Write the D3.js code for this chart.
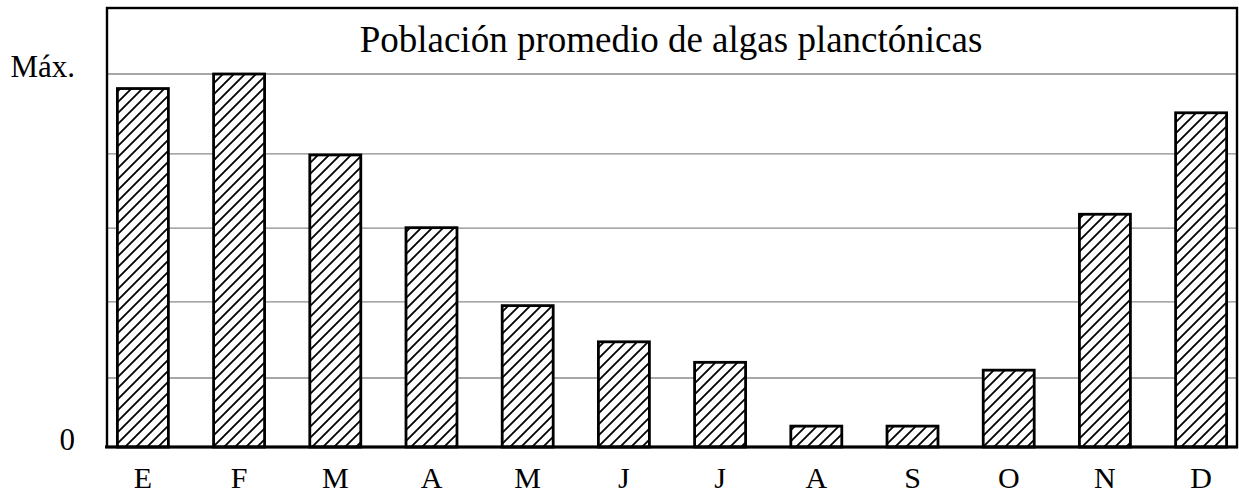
<!DOCTYPE html>
<html>
<head>
<meta charset="utf-8">
<script src="https://cdn.jsdelivr.net/npm/d3@7"></script>
<style>
  html, body { margin: 0; padding: 0; background: #fff; }
  svg { display: block; }
  text { font-family: "Liberation Serif", "Times New Roman", serif; fill: #000; }
</style>
</head>
<body>
<svg id="chart" width="1239" height="496"></svg>
<script>
// ---- data ----
const months = ["E", "F", "M", "A", "M", "J", "J", "A", "S", "O", "N", "D"];
const population = [96.1, 100, 78.3, 58.8, 37.9, 28.2, 22.7, 5.6, 5.6, 20.6, 62.4, 89.6];
const gridValues = [18.5, 38.9, 58.7, 78.6, 100];
const yTickValues = [0, 100];
const yTickLabels = ["0", "Máx."];
const titleText = "Población promedio de algas planctónicas";

// ---- layout ----
const W = 1239, H = 496;
const left = 107, right = 1237, frameTop = 8, bottom = 447, maxY = 74;

const svg = d3.select("#chart");
const keys = months.map((m, i) => i);

const x = d3.scaleBand()
  .domain(keys)
  .range([left, right])
  .paddingInner(0.47)
  .paddingOuter(0.108);

const y = d3.scaleLinear()
  .domain([0, 100])
  .range([bottom, maxY]);

// hatch pattern
const S = 11;
const defs = svg.append("defs");
const pat = defs.append("pattern")
  .attr("id", "hatch")
  .attr("patternUnits", "userSpaceOnUse")
  .attr("width", S).attr("height", S);
pat.append("rect").attr("width", S).attr("height", S).attr("fill", "#fff");
pat.append("path")
  .attr("d", `M0,${S} L${S},0 M-3,3 L3,-3 M${S-3},${S+3} L${S+3},${S-3}`)
  .attr("stroke", "#000")
  .attr("stroke-width", 1.8);

// gridlines
svg.append("g")
  .selectAll("line")
  .data(gridValues)
  .join("line")
  .attr("x1", left).attr("x2", right)
  .attr("y1", d => y(d)).attr("y2", d => y(d))
  .attr("stroke", "#8a8a8a")
  .attr("stroke-width", 1.3);

// bars
svg.append("g")
  .selectAll("rect")
  .data(population)
  .join("rect")
  .attr("x", (d, i) => x(i))
  .attr("width", x.bandwidth())
  .attr("y", d => y(d))
  .attr("height", d => y(0) - y(d))
  .attr("fill", "url(#hatch)")
  .attr("stroke", "#000")
  .attr("stroke-width", 2.8);

// frame
svg.append("rect")
  .attr("x", left).attr("y", frameTop)
  .attr("width", right - left).attr("height", bottom - frameTop)
  .attr("fill", "none")
  .attr("stroke", "#000")
  .attr("stroke-width", 2.4);
svg.append("line")
  .attr("x1", left - 2).attr("x2", right + 1)
  .attr("y1", bottom).attr("y2", bottom)
  .attr("stroke", "#000").attr("stroke-width", 3.2);

// x axis
const xAxis = d3.axisBottom(x)
  .tickSize(0)
  .tickFormat(i => months[i]);
const gx = svg.append("g")
  .attr("transform", `translate(0,${bottom})`)
  .call(xAxis);
gx.select(".domain").remove();
gx.selectAll("text")
  .attr("y", 41).attr("dy", 0)
  .style("font-size", "30px")
  .style("font-family", "'Liberation Serif', 'Times New Roman', serif")
  .attr("fill", "#000");

// y axis labels
const yAxis = d3.axisLeft(y)
  .tickValues(yTickValues)
  .tickSize(0)
  .tickPadding(32)
  .tickFormat((d, i) => yTickLabels[i]);
const gy = svg.append("g")
  .attr("transform", `translate(${left},0)`)
  .call(yAxis);
gy.select(".domain").remove();
gy.selectAll("text")
  .attr("dy", 2)
  .style("font-size", "31px")
  .style("font-family", "'Liberation Serif', 'Times New Roman', serif")
  .attr("fill", "#000");

// title
svg.append("text")
  .attr("x", (left + right) / 2 - 1)
  .attr("y", 52)
  .attr("text-anchor", "middle")
  .style("font-size", "37px")
  .text(titleText);
</script>
</body>
</html>
